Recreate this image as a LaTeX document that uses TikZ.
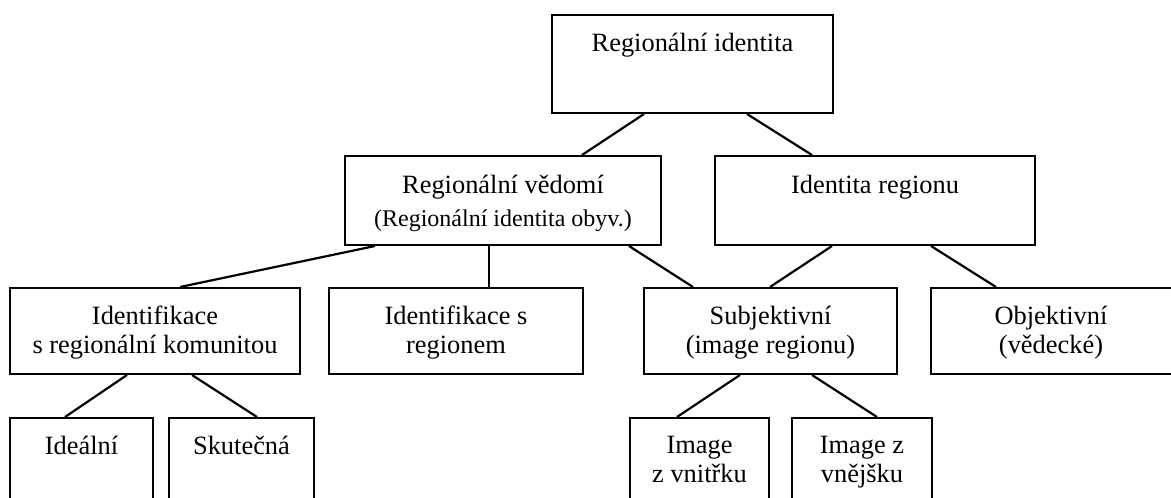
\documentclass[tikz,border=0pt]{standalone}
\usepackage{fontspec}
\setmainfont{Liberation Serif}
\usetikzlibrary{calc}
\begin{document}
\begin{tikzpicture}[x=1pt,y=-1pt,
  box/.style={draw=black, line width=2pt, rectangle, inner sep=0pt, anchor=north west},
  conn/.style={draw=black, line width=2.2pt},
  txt/.style={anchor=base, inner sep=0pt, font=\fontsize{26.4}{29}\selectfont},
  txts/.style={anchor=base, inner sep=0pt, font=\fontsize{24}{27}\selectfont}]
\clip (0,0) rectangle (1171,498);
\fill[white] (0,0) rectangle (1171,498);
% boxes
\node[box, minimum width=281pt, minimum height=98pt] (top) at (551,14) {};
\node[box, minimum width=316pt, minimum height=89pt] (rv) at (344,155) {};
\node[box, minimum width=320pt, minimum height=89pt] (ir) at (714,155) {};
\node[box, minimum width=290pt, minimum height=86pt] (idk) at (9,287) {};
\node[box, minimum width=254pt, minimum height=86pt] (idr) at (328,287) {};
\node[box, minimum width=253pt, minimum height=86pt] (subj) at (643,287) {};
\node[box, minimum width=260pt, minimum height=86pt] (obj) at (930,287) {};
\node[box, minimum width=143pt, minimum height=100pt] (ideal) at (9,417) {};
\node[box, minimum width=145pt, minimum height=100pt] (skut) at (168,417) {};
\node[box, minimum width=139pt, minimum height=100pt] (ivn) at (629,417) {};
\node[box, minimum width=140pt, minimum height=100pt] (ivj) at (791,417) {};
% texts
\node[txt] (top-t) at ($(top.north)+(0,37)$) {Regionální identita};
\node[txt] (rv-t1) at ($(rv.north)+(0,38)$) {Regionální vědomí};
\node[txts] (rv-t2) at ($(rv.north)+(0,71)$) {(Regionální identita obyv.)};
\node[txt] (ir-t) at ($(ir.north)+(0,38)$) {Identita regionu};
\node[txt] (idk-t1) at ($(idk.north)+(0,37)$) {Identifikace};
\node[txt] (idk-t2) at ($(idk.north)+(0,66)$) {s regionální komunitou};
\node[txt] (idr-t1) at ($(idr.north)+(0,37)$) {Identifikace s};
\node[txt] (idr-t2) at ($(idr.north)+(0,66)$) {regionem};
\node[txt] (subj-t1) at ($(subj.north)+(0,37)$) {Subjektivní};
\node[txt] (subj-t2) at ($(subj.north)+(0,66)$) {(image regionu)};
\node[txt] (obj-t1) at ($(obj.north west)+(121,37)$) {Objektivní};
\node[txt] (obj-t2) at ($(obj.north west)+(121,66)$) {(vědecké)};
\node[txt] (ideal-t) at ($(ideal.north)+(0,37)$) {Ideální};
\node[txt] (skut-t) at ($(skut.north)+(0,37)$) {Skutečná};
\node[txt] (ivn-t1) at ($(ivn.north)+(0,36)$) {Image};
\node[txt] (ivn-t2) at ($(ivn.north)+(0,65)$) {z vnitřku};
\node[txt] (ivj-t1) at ($(ivj.north)+(0,36)$) {Image z};
\node[txt] (ivj-t2) at ($(ivj.north)+(0,65)$) {vnějšku};
% connectors
\draw[conn] ($(top.south west)+(93,0)$) -- ($(rv.north west)+(238,0)$);
\draw[conn] ($(top.south west)+(196,0)$) -- ($(ir.north west)+(98,0)$);
\draw[conn] ($(rv.south west)+(31,0)$) -- ($(idk.north west)+(171,0)$);
\draw[conn] ($(rv.south west)+(145,0)$) -- ($(idr.north west)+(161,0)$);
\draw[conn] ($(rv.south west)+(285,0)$) -- ($(subj.north west)+(50,0)$);
\draw[conn] ($(ir.south west)+(118,0)$) -- ($(subj.north west)+(127,0)$);
\draw[conn] ($(ir.south west)+(217,0)$) -- ($(obj.north west)+(66,0)$);
\draw[conn] ($(idk.south west)+(118,0)$) -- ($(ideal.north west)+(56,0)$);
\draw[conn] ($(idk.south west)+(183,0)$) -- ($(skut.north west)+(89,0)$);
\draw[conn] ($(subj.south west)+(97,0)$) -- ($(ivn.north west)+(48,0)$);
\draw[conn] ($(subj.south west)+(169,0)$) -- ($(ivj.north west)+(86,0)$);
\end{tikzpicture}
\end{document}
